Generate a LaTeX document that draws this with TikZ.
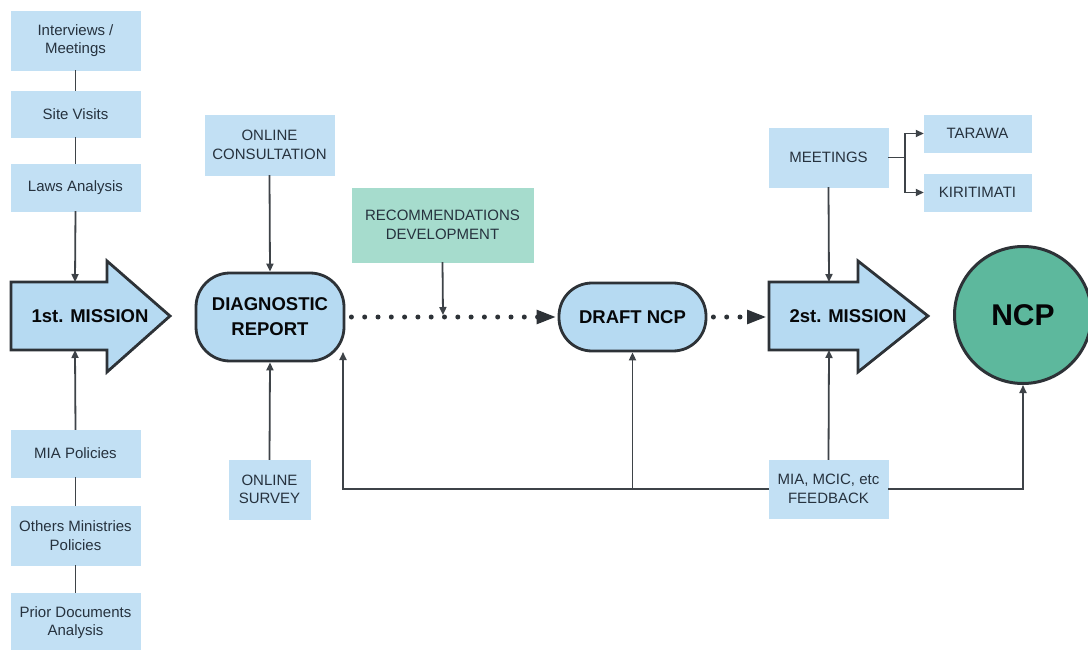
\documentclass[tikz,border=0pt]{standalone}
\usepackage{fontspec}
\setmainfont{Liberation Sans}
\usetikzlibrary{arrows.meta}
\definecolor{boxblue}{HTML}{C2E0F4}
\definecolor{bigblue}{HTML}{B6DAF2}
\definecolor{recteal}{HTML}{A6DCCD}
\definecolor{ncpteal}{HTML}{5DB89D}
\definecolor{edge}{HTML}{2D3237}
\definecolor{txt}{HTML}{26323E}
\definecolor{lnk}{HTML}{3E4348}
\tikzset{
  smallbox/.style={fill=boxblue, draw=boxblue, inner sep=0pt, align=center, text=txt,
    font=\fontsize{15}{18.5}\selectfont},
  bigshape/.style={fill=bigblue, draw=edge, line width=2.8pt, line join=miter},
  bigtext/.style={font=\fontsize{18.5}{25}\selectfont\bfseries, text=black!85!txt, align=center},
  conn/.style={draw=lnk, line width=1.8pt, -{Triangle[length=8pt,width=7pt]}},
  plain/.style={draw=lnk, line width=1.8pt},
  dotline/.style={draw=edge, line width=5pt, line cap=round, dash pattern=on 0pt off 13.3pt,
    -{Triangle[length=20pt,width=13pt,line cap=butt]}}
}
\begin{document}
\begin{tikzpicture}[x=1pt,y=-1pt]
\useasboundingbox (0,0) rectangle (1088,650);
\fill[white] (0,0) rectangle (1088,650);

% left column
\node[smallbox, minimum width=129pt, minimum height=59pt] (int) at (75.5,40.5) {Interviews /\\Meetings};
\node[smallbox, minimum width=129pt, minimum height=46pt] (site) at (75.5,114) {Site Visits};
\node[smallbox, minimum width=129pt, minimum height=47pt] (laws) at (75.5,187.5) {Laws Analysis};
\node[smallbox, minimum width=129pt, minimum height=47pt] (mia) at (75.5,453.5) {MIA Policies};
\node[smallbox, minimum width=129pt, minimum height=59pt] (oth) at (75.5,535.5) {Others Ministries\\Policies};
\node[smallbox, minimum width=129pt, minimum height=59pt] (prior) at (75.5,622.5) {Prior Documents\\Analysis};

% 1st mission arrow
\draw[bigshape] (11,282) -- (107,282) -- (107,261) -- (170,316) -- (107,372) -- (107,350) -- (11,350) -- cycle;
\node[bigtext] (m1) at (90,316) {1st. MISSION};
\coordinate (m1top) at (75,282);
\coordinate (m1bot) at (75,350);

% diagnostic
\node[bigshape, rounded corners=34pt, minimum width=148pt, minimum height=88pt, bigtext] (diag) at (270,317) {DIAGNOSTIC\\REPORT};
\node[smallbox, minimum width=129pt, minimum height=60pt] (onc) at (269.5,145) {ONLINE\\CONSULTATION};
\node[smallbox, minimum width=81pt, minimum height=59pt] (ons) at (269.5,489.5) {ONLINE\\SURVEY};

% recommendations
\node[smallbox, fill=recteal, draw=recteal, minimum width=181pt, minimum height=74pt] (rec) at (442.5,225) {RECOMMENDATIONS\\DEVELOPMENT};

% draft
\node[bigshape, rounded corners=33pt, minimum width=147pt, minimum height=68pt, bigtext] (draft) at (632.5,317) {DRAFT NCP};

% 2nd mission arrow
\draw[bigshape] (769,282) -- (858,282) -- (858,261) -- (928,316) -- (858,372) -- (858,350) -- (769,350) -- cycle;
\node[bigtext] (m2) at (848,316) {2st. MISSION};
\coordinate (m2top) at (829,282);
\coordinate (m2bot) at (829,350);
\coordinate (m2in) at (767,317);

% NCP
\node[circle, fill=ncpteal, draw=edge, line width=3pt, minimum size=137pt, inner sep=0pt,
  font=\fontsize{30}{30}\selectfont\bfseries, text=black!90!txt] (ncp) at (1023,315) {NCP};

% meetings
\node[smallbox, minimum width=119pt, minimum height=59pt] (meet) at (828.5,157.5) {MEETINGS};
\node[smallbox, minimum width=107pt, minimum height=37pt] (tar) at (977.5,133.5) {TARAWA};
\node[smallbox, minimum width=107pt, minimum height=37pt] (kir) at (977.5,192.5) {KIRITIMATI};

% feedback
\node[smallbox, minimum width=119pt, minimum height=58pt] (fb) at (828.5,489) {MIA, MCIC, etc\\FEEDBACK};

% connectors left column
\draw[plain] (int.south) -- (site.north);
\draw[plain] (site.south) -- (laws.north);
\draw[conn] (laws.south) -- (m1top);
\draw[conn] (mia.north) -- (m1bot);
\draw[plain] (mia.south) -- (oth.north);
\draw[plain] (oth.south) -- (prior.north);

% diagnostic inputs
\draw[conn] (onc.south) -- (diag.north);
\draw[conn] (ons.north) -- (diag.south);

% dotted flow
\draw[dotline] ([xshift=6pt]diag.east) -- ([xshift=-1pt]draft.west);
\draw[dotline] ([xshift=6pt]draft.east) -- (m2in);
\coordinate (recin) at (443,315);
\draw[conn] (rec.south) -- (recin);

% meetings
\draw[conn] (meet.south) -- (m2top);
\draw[conn] (meet.east) -- ++(17,0) |- (tar.west);
\draw[conn] (meet.east) -- ++(17,0) |- (kir.west);

% feedback
\coordinate (dgin) at (343,352);
\coordinate (jn) at (draft.south |- fb.west);
\draw[conn] (fb.north) -- (m2bot);
\draw[conn] (fb.west) -| (dgin);
\draw[conn] (jn) -- (draft.south);
\draw[conn] (fb.east) -| (ncp.south);
\end{tikzpicture}
\end{document}
